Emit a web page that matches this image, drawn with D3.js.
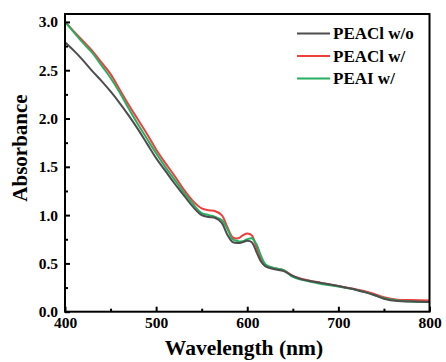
<!DOCTYPE html>
<html>
<head>
    <meta charset="UTF-8">
    <title>Absorbance spectra</title>
    <script src="https://d3js.org/d3.v7.min.js"></script>
    <style>
        body { margin: 0; background: #fff; }
        text { font-family: "Liberation Serif", "Times New Roman", serif; font-weight: bold; fill: #000; }
    </style>
</head>
<body>
<script>
    // data
    var wavelength = [400, 410, 420, 430, 440, 450, 460, 470, 480, 490, 500, 510, 520, 530, 540, 550, 558, 565, 572, 578, 584, 590, 595, 600, 605, 610, 615, 620, 630, 640, 650, 660, 680, 700, 720, 730, 740, 750, 765, 780, 800];
    var peaclWo = [2.79, 2.70, 2.60, 2.49, 2.39, 2.28, 2.16, 2.03, 1.89, 1.74, 1.59, 1.46, 1.33, 1.21, 1.09, 1.00, 0.98, 0.97, 0.92, 0.80, 0.72, 0.71, 0.72, 0.735, 0.72, 0.62, 0.52, 0.47, 0.44, 0.42, 0.37, 0.335, 0.30, 0.265, 0.225, 0.20, 0.17, 0.135, 0.11, 0.105, 0.10];
    var peaclW = [3.00, 2.90, 2.80, 2.70, 2.58, 2.46, 2.30, 2.14, 1.99, 1.84, 1.68, 1.54, 1.41, 1.27, 1.15, 1.07, 1.05, 1.04, 1.00, 0.88, 0.77, 0.76, 0.79, 0.81, 0.79, 0.67, 0.55, 0.48, 0.45, 0.43, 0.37, 0.34, 0.30, 0.265, 0.23, 0.21, 0.18, 0.15, 0.125, 0.12, 0.115];
    var peaiW = [3.00, 2.89, 2.78, 2.68, 2.55, 2.42, 2.27, 2.10, 1.94, 1.79, 1.64, 1.50, 1.37, 1.24, 1.12, 1.02, 1.00, 0.98, 0.95, 0.86, 0.75, 0.73, 0.73, 0.75, 0.76, 0.70, 0.58, 0.49, 0.45, 0.43, 0.36, 0.33, 0.29, 0.26, 0.225, 0.20, 0.17, 0.14, 0.115, 0.105, 0.10];
    var seriesNames = ["PEACl w/o", "PEACl w/", "PEAI w/"];
    var seriesColors = ["#4d4d4d", "#ef3e3e", "#27ae60"];
    var xTicks = [400, 500, 600, 700, 800];
    var yTicks = [0.0, 0.5, 1.0, 1.5, 2.0, 2.5, 3.0];

    var width = 446, height = 362;
    var plotLeft = 65, plotRight = 429.5, plotTop = 14, plotBottom = 311.7;

    var svg = d3.select("body").append("svg")
        .attr("width", width).attr("height", height);

    var x = d3.scaleLinear().domain([400, 800]).range([plotLeft, plotRight]);
    var y = d3.scaleLinear().domain([0, 3.082]).range([plotBottom, plotTop]);

    var allSeries = [peaclWo, peaclW, peaiW];

    var line = d3.line()
        .x(function (d) { return x(d[0]); })
        .y(function (d) { return y(d[1]); })
        .curve(d3.curveCatmullRom.alpha(0.5));

    // red first, then green, black on top
    var order = [1, 2, 0];
    order.forEach(function (i) {
        var pts = wavelength.map(function (w, k) { return [w, allSeries[i][k]]; });
        svg.append("path")
            .attr("d", line(pts))
            .attr("fill", "none")
            .attr("stroke", seriesColors[i])
            .attr("stroke-width", 2);
    });

    // frame
    svg.append("rect")
        .attr("x", plotLeft).attr("y", plotTop)
        .attr("width", plotRight - plotLeft).attr("height", plotBottom - plotTop)
        .attr("fill", "none").attr("stroke", "#000").attr("stroke-width", 2);

    // bottom axis: major ticks inward, minor ticks between
    var xAxis = svg.append("g").attr("transform", "translate(0," + plotBottom + ")")
        .call(d3.axisBottom(x).tickValues(xTicks).tickSize(-5).tickPadding(5).tickFormat(d3.format("d")));
    var xMinor = svg.append("g").attr("transform", "translate(0," + plotBottom + ")")
        .call(d3.axisBottom(x).tickValues([450, 550, 650, 750]).tickSize(-3).tickFormat(""));

    var yAxis = svg.append("g").attr("transform", "translate(" + plotLeft + ",0)")
        .call(d3.axisLeft(y).tickValues(yTicks).tickSize(-5).tickPadding(7).tickFormat(d3.format(".1f")));
    var yMinor = svg.append("g").attr("transform", "translate(" + plotLeft + ",0)")
        .call(d3.axisLeft(y).tickValues([0.25, 0.75, 1.25, 1.75, 2.25, 2.75]).tickSize(-3).tickFormat(""));

    [xAxis, xMinor, yAxis, yMinor].forEach(function (g) {
        g.select(".domain").remove();
        g.selectAll("line").attr("stroke", "#000").attr("stroke-width", 2);
        g.selectAll("text").attr("font-size", 15.5).attr("font-family", null).attr("fill", "#000");
    });

    // axis titles
    svg.append("text")
        .attr("x", 244).attr("y", 355)
        .attr("text-anchor", "middle").attr("font-size", 21.5)
        .text("Wavelength (nm)");
    svg.append("text")
        .attr("transform", "translate(27,148) rotate(-90)")
        .attr("text-anchor", "middle").attr("font-size", 21)
        .text("Absorbance");

    // legend
    var legend = svg.append("g");
    seriesNames.forEach(function (name, i) {
        var ly = 33.5 + i * 22.5;
        legend.append("line")
            .attr("x1", 297).attr("x2", 330).attr("y1", ly).attr("y2", ly)
            .attr("stroke", seriesColors[i]).attr("stroke-width", 2);
        legend.append("text")
            .attr("x", 333).attr("y", ly + 5.5)
            .attr("font-size", 17)
            .text(name);
    });
</script>
</body>
</html>
